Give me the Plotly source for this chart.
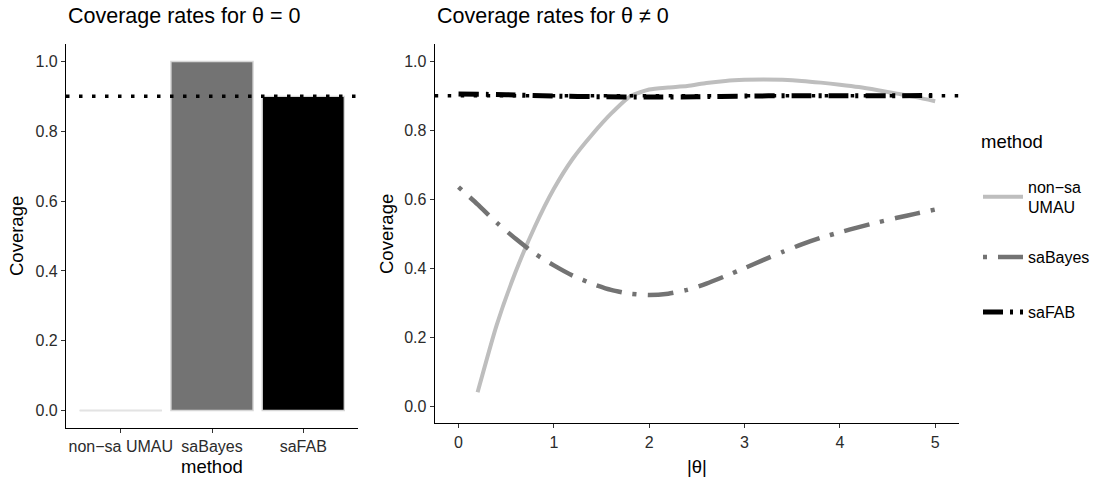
import plotly.graph_objects as go

# ---------------- data ----------------
bar_methods = ["non\u2212sa UMAU", "saBayes", "saFAB"]
bar_coverage = [0.0, 1.0, 0.90]
bar_fills = ["#FFFFFF", "#737373", "#000000"]

nominal = 0.90

umau_theta = [0.2, 0.4, 0.6, 0.8, 1.0, 1.2, 1.4, 1.6, 1.8, 2.0, 2.2, 2.4, 2.6,
              2.8, 3.0, 3.2, 3.4, 3.6, 3.8, 4.0, 4.2, 4.4, 4.6, 4.8, 5.0]
umau_cov = [0.040, 0.235, 0.390, 0.520, 0.630, 0.718, 0.787, 0.848, 0.898, 0.918,
            0.924, 0.928, 0.937, 0.943, 0.946, 0.947, 0.946, 0.943, 0.938, 0.932,
            0.925, 0.916, 0.906, 0.896, 0.884]

bayes_theta = [0.0, 0.2, 0.4, 0.6, 0.8, 1.0, 1.2, 1.4, 1.6, 1.8, 2.0, 2.2, 2.4,
               2.6, 2.8, 3.0, 3.2, 3.4, 3.6, 3.8, 4.0, 4.2, 4.4, 4.6, 4.8, 5.0]
bayes_cov = [0.635, 0.585, 0.532, 0.485, 0.442, 0.408, 0.378, 0.355, 0.337, 0.326,
             0.322, 0.326, 0.337, 0.355, 0.377, 0.400, 0.424, 0.447, 0.469, 0.488,
             0.504, 0.519, 0.533, 0.546, 0.558, 0.570]

fab_theta = [0.0, 0.5, 1.0, 1.5, 2.0, 2.5, 3.0, 3.5, 4.0, 4.5, 5.0]
fab_cov = [0.905, 0.903, 0.899, 0.897, 0.896, 0.897, 0.899, 0.900, 0.900, 0.900, 0.901]

line_names = ["non\u2212sa<br>UMAU", "saBayes", "saFAB"]
line_colors = ["#BEBEBE", "#737373", "#000000"]

# ---------------- figure ----------------
W, H = 1099, 478
ML, MR, MT, MB = 66, 140, 44, 50
pw = W - ML - MR
ph = H - MT - MB

def px_x(p):
    return (p - ML) / pw

def px_y(p):
    return 1 - (p - MT) / ph

fig = go.Figure()

fig.add_trace(go.Bar(
    x=bar_methods, y=bar_coverage, width=0.9,
    marker=dict(color=bar_fills, line=dict(color="#D6D6D6", width=1.4)),
    xaxis="x", yaxis="y", showlegend=False, hoverinfo="x+y",
))

# zero-height bars: outline drawn at their value
for i, v in enumerate(bar_coverage):
    if v == 0:
        fig.add_shape(type="line", xref="x", yref="y", x0=i - 0.45, x1=i + 0.45,
                      y0=v, y1=v, line=dict(color="#E3E3E3", width=1.5))

fig.add_trace(go.Scatter(
    x=umau_theta, y=umau_cov, mode="lines", name=line_names[0],
    line=dict(color=line_colors[0], width=4, shape="spline", smoothing=0.6),
    xaxis="x2", yaxis="y2", legend="legend",
))
fig.add_trace(go.Scatter(
    x=bayes_theta, y=bayes_cov, mode="lines", name=line_names[1],
    line=dict(color=line_colors[1], width=4.5, shape="spline", smoothing=0.6,
              dash="4px,11px,26px,11px"),
    xaxis="x2", yaxis="y2", legend="legend2",
))
fig.add_trace(go.Scatter(
    x=fab_theta, y=fab_cov, mode="lines", name=line_names[2],
    line=dict(color=line_colors[2], width=5, shape="spline", smoothing=0.6,
              dash="20px,7px,3px,7px"),
    xaxis="x2", yaxis="y2", legend="legend3",
))

# nominal coverage reference lines
for xr, yr in [("x domain", "y"), ("x2 domain", "y2")]:
    fig.add_shape(type="line", xref=xr, yref=yr, x0=0, x1=1, y0=nominal, y1=nominal,
                  line=dict(color="black", width=3.5, dash="3.5px,9.5px"), layer="above")

FONT = "Liberation Sans, Arial, sans-serif"
tickfont = dict(family=FONT, size=16, color="#2b2b2b")
axis_common = dict(showline=True, linecolor="black", linewidth=1.1, ticks="outside",
                   ticklen=4, tickwidth=1.1, tickcolor="#333333", showgrid=False,
                   zeroline=False, tickfont=tickfont)

x1_right = px_x(358)
x2_left = px_x(434.7)
y2_bottom = px_y(423.3)

def leg(ycenter):
    return dict(x=px_x(978), y=px_y(ycenter), xanchor="left", yanchor="middle",
                font=dict(family=FONT, size=16, color="black"),
                itemwidth=40, bgcolor="rgba(0,0,0,0)")

fig.update_layout(
    width=W, height=H,
    margin=dict(l=ML, r=MR, t=MT, b=MB, autoexpand=False),
    paper_bgcolor="white", plot_bgcolor="white",
    font=dict(family=FONT, color="black"),
    bargap=0.1,
    xaxis=dict(domain=[0, x1_right], range=[-0.6, 2.6], anchor="y", **axis_common),
    yaxis=dict(domain=[0, 1], range=[-0.05, 1.05], anchor="x",
               tickvals=[0, 0.2, 0.4, 0.6, 0.8, 1.0],
               ticktext=["0.0", "0.2", "0.4", "0.6", "0.8", "1.0"], **axis_common),
    xaxis2=dict(domain=[x2_left, 1], range=[-0.25, 5.25], anchor="y2",
                tickvals=[0, 1, 2, 3, 4, 5], **axis_common),
    yaxis2=dict(domain=[y2_bottom, 1], range=[-0.05, 1.05], anchor="x2",
                tickvals=[0, 0.2, 0.4, 0.6, 0.8, 1.0],
                ticktext=["0.0", "0.2", "0.4", "0.6", "0.8", "1.0"], **axis_common),
    legend=leg(197),
    legend2=leg(257),
    legend3=leg(312),
    showlegend=True,
)

annots = [
    dict(text="Coverage rates for \u03b8 = 0", x=px_x(66), y=px_y(16), xanchor="left",
         yanchor="middle", font=dict(size=21.5)),
    dict(text="Coverage rates for \u03b8 \u2260 0", x=px_x(435), y=px_y(16), xanchor="left",
         yanchor="middle", font=dict(size=21.5)),
    dict(text="Coverage", x=px_x(16), y=px_y(236), xanchor="center", yanchor="middle",
         textangle=-90, font=dict(size=18.5)),
    dict(text="Coverage", x=px_x(386), y=px_y(234), xanchor="center", yanchor="middle",
         textangle=-90, font=dict(size=18.5)),
    dict(text="method", x=px_x(212), y=px_y(466), xanchor="center", yanchor="middle",
         font=dict(size=18.5)),
    dict(text="|\u03b8|", x=px_x(697), y=px_y(466), xanchor="center", yanchor="middle",
         font=dict(size=18.5)),
    dict(text="method", x=px_x(979), y=px_y(142), xanchor="left", yanchor="middle",
         font=dict(size=18.5)),
]
for a in annots:
    a.update(xref="paper", yref="paper", showarrow=False)
    a["font"] = dict(family=FONT, color="black", **a["font"])
    fig.add_annotation(**a)

fig.write_html("out.html", config={"displayModeBar": False},
               post_script="document.body.style.margin='0px';document.body.style.overflow='hidden';")
